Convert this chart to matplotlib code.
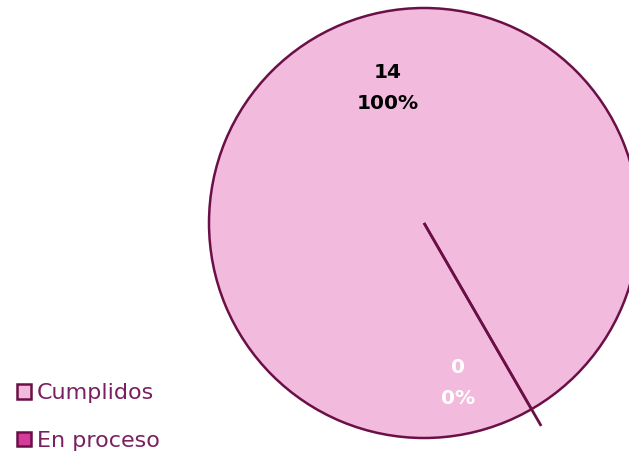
import numpy as np
import matplotlib
matplotlib.use("Agg")
import matplotlib.pyplot as plt

categories = ["Cumplidos", "En proceso"]
values = [14, 0]
colors = ["#F2BBDD", "#D43B9B"]
edge = "#6B0F47"
text_color = "#7A2060"

W, H = 629, 453
fig = plt.figure(figsize=(W / 100, H / 100), dpi=100)

cx, cy, r = 424, 223, 215
lim = 1.12
half = r * lim
ax = fig.add_axes([(cx - half) / W, (H - cy - half) / H, 2 * half / W, 2 * half / H])

start = -60.0
wedges, _ = ax.pie(values, colors=colors, startangle=start, counterclock=False,
                   radius=1, wedgeprops=dict(edgecolor=edge, linewidth=1.8),
                   normalize=True)
ax.set_xlim(-lim, lim)
ax.set_ylim(-lim, lim)
ax.set_aspect("equal")
ax.axis("off")

total = sum(values)
# zero-value slice boundary line (drawn slightly past the rim)
frac0 = values[0] / total
ang0 = np.deg2rad(start - 360 * frac0)
ax.plot([0, 1.09 * np.cos(ang0)], [0, 1.09 * np.sin(ang0)], color=edge,
        linewidth=2.0, solid_capstyle="butt", clip_on=False, zorder=5)

font = "DejaVu Sans"
label_pos = [(105, 0.65), (-78, 0.76)]
label_cols = ["black", "white"]
for v, (a, d), c in zip(values, label_pos, label_cols):
    pct = 100 * v / total
    ax.text(d * np.cos(np.deg2rad(a)), d * np.sin(np.deg2rad(a)),
            f"{v}\n{pct:.0f}%", ha="center", va="center", color=c,
            fontsize=14.5, fontweight="bold", family=font, linespacing=1.8)

leg = fig.legend(wedges, categories, loc="upper left",
                 bbox_to_anchor=(17 / W, 1 - 383 / H), frameon=False,
                 handlelength=0.65, handleheight=0.65,
                 handletextpad=0.25, labelspacing=1.25, borderpad=0,
                 borderaxespad=0,
                 prop=dict(family=font, size=16))
for t in leg.get_texts():
    t.set_color(text_color)
for h in leg.legend_handles:
    h.set_edgecolor(edge)
    h.set_linewidth(1.8)

fig.savefig("out.png", dpi=100)
